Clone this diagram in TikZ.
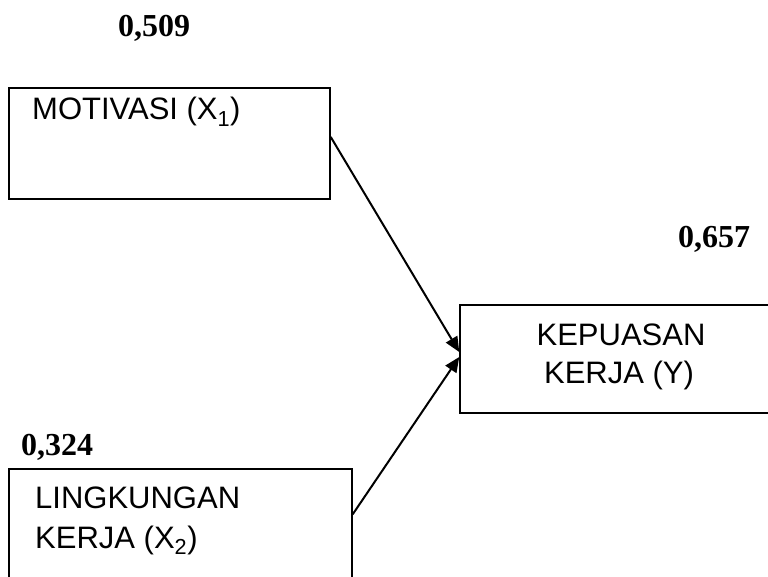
\documentclass[tikz,border=0pt]{standalone}
\usepackage{fontspec}
\setmainfont{Liberation Serif}
\newfontfamily\arialfont{Liberation Sans}
\usetikzlibrary{arrows.meta}
\begin{document}
\begin{tikzpicture}[x=1pt,y=-1pt,
  boxstyle/.style={draw,line width=1.5pt,inner sep=0pt},
  lbl/.style={font=\arialfont\fontsize{31}{36}\selectfont,inner sep=0pt},
  coef/.style={font=\bfseries\fontsize{32}{36}\selectfont,inner sep=0pt},
  link/.style={line width=2pt,-{Triangle[length=15pt,width=13pt]}}]
\useasboundingbox (0,0) rectangle (768,577);
\begin{scope}
\clip (0,0) rectangle (768,577);
\node[boxstyle,minimum width=321pt,minimum height=111pt] (b1) at (169.5,143.5) {};
\node[boxstyle,minimum width=343pt,minimum height=151pt] (b2) at (180.5,544.5) {};
\node[boxstyle,minimum width=310pt,minimum height=108pt] (b3) at (615,359) {};
\end{scope}
\node[lbl,anchor=base west] (t1) at (32,120) {MOTIVASI (X\textsubscript{1})};
\node[lbl,anchor=base west] (t2a) at (35,508) {LINGKUNGAN};
\node[lbl,anchor=base west] (t2b) at (35,548) {KERJA (X\textsubscript{2})};
\node[lbl,anchor=base] (t3a) at (621,345) {KEPUASAN};
\node[lbl,anchor=base] (t3b) at (619,383) {KERJA (Y)};
\node[coef,anchor=base] (c1) at (154,37) {0,509};
\node[coef,anchor=base] (c2) at (714,248) {0,657};
\node[coef,anchor=base] (c3) at (57,455) {0,324};
\draw[link] ([yshift=6.5pt]b1.east) -- ([yshift=7pt]b3.west);
\draw[link] ([yshift=-46pt]b2.north east) -- ([yshift=2pt]b3.west);
\end{tikzpicture}
\end{document}
